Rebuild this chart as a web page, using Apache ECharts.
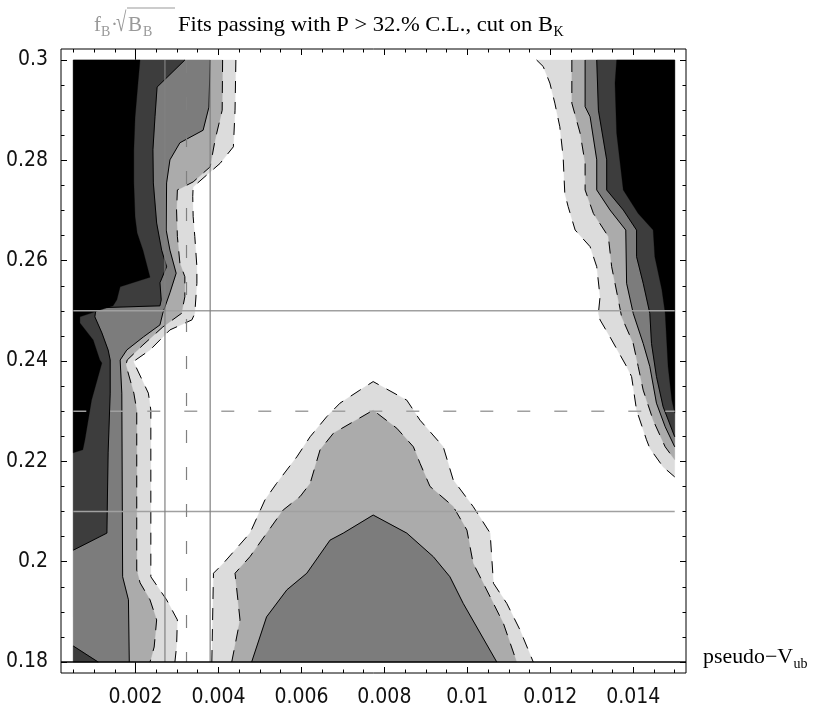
<!DOCTYPE html>
<html><head><meta charset="utf-8">
<script src="https://cdn.jsdelivr.net/npm/echarts@6/dist/echarts.min.js"></script>
<style>html,body{margin:0;padding:0;background:#fff}#c{width:814px;height:709px}</style>
</head><body><div id="c"></div>
<script>
// ---------- data ----------
const X_RANGE = [0.000204, 0.015272];      // frame extent
const Y_RANGE = [0.177816, 0.302193];
const DATA_X = [0.0005, 0.015];            // plotted region
const DATA_Y = [0.18, 0.3];
const AXIS_ORIGIN = [0.002, 0.18];
const X_LABELS = [0.002,0.004,0.006,0.008,0.01,0.012,0.014];
const X_MINOR = [0.0005,0.001,0.0015,0.0025,0.003,0.0035,0.0045,0.005,0.0055,0.0065,0.007,0.0075,0.0085,0.009,0.0095,0.0105,0.011,0.0115,0.0125,0.013,0.0135,0.0145,0.015];
const Y_LABELS = [0.18,0.2,0.22,0.24,0.26,0.28,0.3];
const Y_MINOR = [0.185,0.19,0.195,0.205,0.21,0.215,0.225,0.23,0.235,0.245,0.25,0.255,0.265,0.27,0.275,0.285,0.29,0.295];
const REF_H_SOLID = [0.25, 0.21];
const REF_H_DASHED = [0.23];
const REF_V_SOLID = [0.00271, 0.0038];
const REF_V_DASHED = [0.00323];

// contour boundaries, level A (outermost) .. E (innermost)
const LEFT_A = [[0.00442,0.3],[0.0044,0.29],[0.00436,0.2827],[0.00404,0.2794],[0.00372,0.2771],[0.00339,0.2747],[0.00338,0.2728],[0.00339,0.2688],[0.00343,0.2648],[0.00348,0.2588],[0.00348,0.2555],[0.00343,0.2495],[0.00336,0.2482],[0.00283,0.2462],[0.00235,0.2422],[0.00195,0.2399],[0.00231,0.2336],[0.00237,0.2302],[0.00237,0.197],[0.00275,0.1924],[0.00301,0.1884],[0.00299,0.1831],[0.00295,0.18]];
const LEFT_B = [[0.0041,0.3],[0.00409,0.29],[0.00392,0.2841],[0.0038,0.2787],[0.00339,0.2757],[0.00301,0.2741],[0.00299,0.2701],[0.00301,0.2648],[0.00307,0.2595],[0.00319,0.2568],[0.00319,0.2528],[0.00311,0.2495],[0.00266,0.2468],[0.00218,0.2432],[0.0018,0.2402],[0.00177,0.2392],[0.00196,0.2336],[0.00203,0.2302],[0.00203,0.1983],[0.00211,0.1958],[0.00235,0.1924],[0.00251,0.1884],[0.00245,0.183],[0.00235,0.18]];
const LEFT_C = [[0.0038,0.3],[0.00377,0.2906],[0.00363,0.286],[0.00307,0.2835],[0.00283,0.2801],[0.00275,0.2755],[0.00274,0.2661],[0.00283,0.2621],[0.00298,0.2575],[0.00283,0.2536],[0.00266,0.2496],[0.00259,0.2472],[0.00219,0.2448],[0.00179,0.2422],[0.00163,0.2402],[0.00167,0.2336],[0.00169,0.197],[0.00183,0.1924],[0.00185,0.18]];
const LEFT_D = [[0.00319,0.3],[0.00252,0.2946],[0.00247,0.2887],[0.00242,0.2821],[0.00243,0.2755],[0.00251,0.2675],[0.00263,0.2621],[0.00275,0.2588],[0.00259,0.2556],[0.00262,0.2522],[0.00259,0.251],[0.00105,0.2506],[0.00102,0.2488],[0.00119,0.2456],[0.00134,0.2422],[0.00139,0.2402],[0.00139,0.2336],[0.00134,0.2217],[0.00131,0.2057],[0.0005,0.2023]];
const LEFT_E = [[0.00211,0.3],[0.00206,0.2954],[0.00199,0.2886],[0.00196,0.2821],[0.00196,0.2755],[0.00199,0.2687],[0.00204,0.2655],[0.00218,0.2621],[0.00235,0.2567],[0.00163,0.2548],[0.00155,0.2522],[0.00146,0.251],[0.00066,0.2488],[0.00066,0.2476],[0.00098,0.2442],[0.00114,0.2402],[0.00119,0.2396],[0.00094,0.2322],[0.00078,0.2243],[0.00073,0.2223],[0.0005,0.2217]];
const LEFT_CORNER_D = [[0.0005,0.1832],[0.0011,0.18]];

const CENTER_A = [[0.00384,0.18],[0.00388,0.1977],[0.00412,0.1997],[0.00476,0.2057],[0.00512,0.2123],[0.0054,0.2156],[0.00589,0.2209],[0.00621,0.2249],[0.00661,0.2289],[0.00693,0.2316],[0.00741,0.2342],[0.00773,0.2359],[0.00854,0.2322],[0.00886,0.2282],[0.00942,0.2229],[0.00966,0.2163],[0.01014,0.211],[0.01055,0.2057],[0.01063,0.1957],[0.01095,0.1917],[0.01127,0.1864],[0.01159,0.18]];
const CENTER_B = [[0.00432,0.18],[0.00452,0.1884],[0.0044,0.1977],[0.00476,0.201],[0.00556,0.2103],[0.00597,0.213],[0.00621,0.2156],[0.00645,0.2223],[0.00677,0.2256],[0.00773,0.2302],[0.0083,0.2266],[0.0087,0.2229],[0.00886,0.2196],[0.0091,0.215],[0.00966,0.211],[0.00999,0.2063],[0.01014,0.1997],[0.01055,0.193],[0.01087,0.1877],[0.01119,0.18]];
const CENTER_C = [[0.0048,0.18],[0.00516,0.189],[0.00565,0.1944],[0.00613,0.1977],[0.00669,0.2043],[0.00701,0.2057],[0.00773,0.2093],[0.00854,0.2057],[0.00918,0.201],[0.00958,0.197],[0.0099,0.1917],[0.01071,0.18]];

const RIGHT_A = [[0.01167,0.3],[0.01183,0.2987],[0.01199,0.2954],[0.01211,0.2914],[0.01223,0.2867],[0.01231,0.2807],[0.01235,0.2734],[0.01243,0.2708],[0.0126,0.2661],[0.01296,0.2628],[0.01312,0.2588],[0.0132,0.2528],[0.01316,0.2495],[0.0132,0.2482],[0.01344,0.2448],[0.01384,0.2389],[0.01396,0.2369],[0.01408,0.2302],[0.01432,0.2243],[0.0144,0.2226],[0.01472,0.2189],[0.015,0.2169]];
const RIGHT_B = [[0.01252,0.3],[0.01252,0.2914],[0.01272,0.2854],[0.01284,0.2794],[0.01284,0.2741],[0.01304,0.2694],[0.0134,0.2648],[0.01348,0.2588],[0.01364,0.2522],[0.01372,0.2488],[0.014,0.2435],[0.01412,0.2389],[0.01424,0.2342],[0.01448,0.2282],[0.01477,0.2229],[0.015,0.2203]];
const RIGHT_C = [[0.01284,0.3],[0.01284,0.2907],[0.01296,0.2887],[0.01312,0.2801],[0.01312,0.2741],[0.01344,0.2701],[0.01382,0.2661],[0.01384,0.2555],[0.014,0.2495],[0.01424,0.2435],[0.0144,0.2389],[0.01456,0.2316],[0.01477,0.2269],[0.015,0.2229]];
const RIGHT_D = [[0.01312,0.3],[0.01316,0.29],[0.01336,0.2801],[0.01336,0.2741],[0.01376,0.2701],[0.01408,0.2661],[0.01408,0.2608],[0.01424,0.2555],[0.0144,0.2495],[0.01444,0.2435],[0.01456,0.2369],[0.01472,0.2309],[0.015,0.2249]];
const RIGHT_E = [[0.0136,0.3],[0.01356,0.2954],[0.0136,0.2854],[0.01376,0.2741],[0.01412,0.2694],[0.01448,0.2661],[0.01452,0.2608],[0.01469,0.2542],[0.01477,0.2495],[0.01484,0.2389],[0.01493,0.2322],[0.015,0.2296]];

// ---------- styles ----------
const SHADES = ['#dcdcdc','#ababab','#7c7c7c','#3d3d3d','#000000'];
const LINE_DASH = [[12,9],[12,9],null,null,'none'];
const REGIONS = [
  {pts:LEFT_A, side:'left', level:0},{pts:LEFT_B, side:'left', level:1},{pts:LEFT_C, side:'left', level:2},
  {pts:LEFT_D, side:'left', level:3},{pts:LEFT_E, side:'left', level:4},{pts:LEFT_CORNER_D, side:'left', level:3},
  {pts:CENTER_A, side:'closed', level:0},{pts:CENTER_B, side:'closed', level:1},{pts:CENTER_C, side:'closed', level:2},
  {pts:RIGHT_A, side:'right', level:0},{pts:RIGHT_B, side:'right', level:1},{pts:RIGHT_C, side:'right', level:2},
  {pts:RIGHT_D, side:'right', level:3},{pts:RIGHT_E, side:'right', level:4}
];
function regionPolygon(r){
  const p = r.pts.slice();
  const first = p[0], last = p[p.length-1];
  if (r.side === 'left'){ p.push([DATA_X[0], last[1]]); p.push([DATA_X[0], first[1]]); }
  else if (r.side === 'right'){ p.push([DATA_X[1], last[1]]); p.push([DATA_X[1], first[1]]); }
  return p;
}

const TICK_FONT = '"Liberation Sans Narrow","DejaVu Sans Condensed","Liberation Sans",sans-serif';
const SERIF = '"Liberation Serif","Times New Roman",serif';
const fmt = v => String(+(+v).toFixed(4));

function xAx(pos, major){
  return {type:'value', position:pos, min:X_RANGE[0], max:X_RANGE[1],
    axisLine:{show:false}, splitLine:{show:false},
    axisTick:{show:true, inside:true, length: major?6:3.5, customValues: major?X_LABELS:X_MINOR, lineStyle:{color:'#000', width:1}},
    axisLabel: (major && pos==='bottom') ? {show:true, customValues:X_LABELS, margin:14, color:'#111', fontFamily:TICK_FONT, fontSize:21, formatter:fmt} : {show:false}};
}
function yAx(pos, major){
  return {type:'value', position:pos, min:Y_RANGE[0], max:Y_RANGE[1],
    axisLine:{show:false}, splitLine:{show:false},
    axisTick:{show:true, inside:true, length: major?6:3.5, customValues: major?Y_LABELS:Y_MINOR, lineStyle:{color:'#000', width:1}},
    axisLabel: (major && pos==='left') ? {show:true, customValues:Y_LABELS, margin:13, color:'#111', fontFamily:TICK_FONT, fontSize:21, formatter:fmt} : {show:false}};
}

function measure(str, size){
  const ctx = document.createElement('canvas').getContext('2d');
  ctx.font = size + 'px ' + SERIF;
  return ctx.measureText(str).width;
}
const MID = 0.3375; // em-middle above baseline
function txt(str, x, baseline, size, color, extra){
  return Object.assign({type:'text', x:x, y:baseline, silent:true, z:10,
    style:{text:str, x:0, y:-MID*size, fontSize:size, fontFamily:SERIF, fill:color, verticalAlign:'middle', textAlign:'left'}}, extra||{});
}
const TITLE_MAIN = 'Fits passing with P > 32.% C.L., cut on B';
const TITLE_SUB = 'K';
const XNAME_MAIN = 'pseudo\u2212V';
const XNAME_SUB = 'ub';
const GRAY = '#999999';
// layout: target text widths in the reference picture
const TITLE_W = 375, XNAME_W = 90;
const sTitle = TITLE_W / measure(TITLE_MAIN, 21);
const sX = XNAME_W / measure(XNAME_MAIN, 21);

const seriesBase = {type:'custom', coordinateSystem:'cartesian2d', xAxisIndex:0, yAxisIndex:0, silent:true, data:[[DATA_X[0], DATA_Y[0]]]};

const option = {
  animation:false,
  grid:{left:61, top:49, right:128, bottom:36, show:true, borderColor:'#000', borderWidth:1, backgroundColor:'#fff'},
  xAxis:[xAx('bottom',true), xAx('bottom',false), xAx('top',true), xAx('top',false)],
  yAxis:[yAx('left',true), yAx('left',false), yAx('right',true), yAx('right',false)],
  series:[
    Object.assign({}, seriesBase, {z:1, renderItem:(p,api)=>{
      const a = api.coord([AXIS_ORIGIN[0], Y_RANGE[0]]), b = api.coord([AXIS_ORIGIN[0], Y_RANGE[1]]);
      return {type:'line', shape:{x1:a[0],y1:a[1],x2:b[0],y2:b[1]}, style:{stroke:'#000', lineWidth:1}};
    }}),
    Object.assign({}, seriesBase, {z:2, renderItem:(p,api)=>{
      const a = api.coord([DATA_X[0], DATA_Y[1]]), b = api.coord([DATA_X[1], DATA_Y[0]]);
      return {type:'rect', shape:{x:a[0], y:a[1], width:b[0]-a[0], height:b[1]-a[1]}, style:{fill:'#fff'}};
    }}),
    Object.assign({}, seriesBase, {z:3, renderItem:(p,api)=>({type:'group', children: REGIONS.map(r=>({
      type:'polygon', shape:{points: regionPolygon(r).map(q=>api.coord(q))}, style:{fill:SHADES[r.level], stroke:SHADES[r.level], lineWidth:0.3}}))})}),
    Object.assign({}, seriesBase, {z:4, renderItem:(p,api)=>({type:'group', children: REGIONS.filter(r=>LINE_DASH[r.level]!=='none').map(r=>({
      type:'polyline', shape:{points: r.pts.map(q=>api.coord(q))}, style:{stroke:'#000', lineWidth:1, fill:null, lineDash: LINE_DASH[r.level]}}))})}),
    Object.assign({}, seriesBase, {z:5, renderItem:(p,api)=>{
      const kids = [];
      REF_H_SOLID.forEach(v=>{const a=api.coord([DATA_X[0],v]), b=api.coord([DATA_X[1],v]); kids.push({type:'line', shape:{x1:a[0],y1:a[1],x2:b[0],y2:b[1]}, style:{stroke:'#a0a0a0', lineWidth:1.5}});});
      REF_H_DASHED.forEach(v=>{const a=api.coord([DATA_X[0],v]), b=api.coord([DATA_X[1],v]); kids.push({type:'line', shape:{x1:a[0],y1:a[1],x2:b[0],y2:b[1]}, style:{stroke:'#a0a0a0', lineWidth:1.5, lineDash:[13,24]}});});
      REF_V_SOLID.forEach(v=>{const a=api.coord([v,DATA_Y[0]]), b=api.coord([v,DATA_Y[1]]); kids.push({type:'line', shape:{x1:a[0],y1:a[1],x2:b[0],y2:b[1]}, style:{stroke:'#808080', lineWidth:1.2}});});
      REF_V_DASHED.forEach(v=>{const a=api.coord([v,DATA_Y[1]]), b=api.coord([v,DATA_Y[0]]); kids.push({type:'line', shape:{x1:a[0],y1:a[1],x2:b[0],y2:b[1]}, style:{stroke:'#808080', lineWidth:1.2, lineDash:[13,24]}});});
      return {type:'group', children:kids};
    }}),
    Object.assign({}, seriesBase, {z:6, renderItem:(p,api)=>{
      const a = api.coord([X_RANGE[0], AXIS_ORIGIN[1]]), b = api.coord([X_RANGE[1], AXIS_ORIGIN[1]]);
      return {type:'line', shape:{x1:a[0],y1:a[1],x2:b[0],y2:b[1]}, style:{stroke:'#000', lineWidth:1.5}};
    }})
  ],
  graphic:[
    txt('f', 94, 33, 21, GRAY),
    txt('B', 101, 37.5, 14, GRAY),
    txt('\u00b7', 111, 33, 21, GRAY),
    txt('\u221a', 116, 33, 21, GRAY, {scaleY:1.3, scaleX:0.9}),
    {type:'line', silent:true, z:10, shape:{x1:127, y1:8, x2:175, y2:8}, style:{stroke:GRAY, lineWidth:1}},
    txt('B', 128, 33, 21, GRAY),
    txt('B', 143, 37.5, 14, GRAY),
    txt(TITLE_MAIN, 178, 33, 21, '#000', {scaleX:sTitle}),
    txt(TITLE_SUB, 178 + TITLE_W + 0.5, 37.5, 14, '#000'),
    txt(XNAME_MAIN, 703, 665, 21, '#000', {scaleX:sX}),
    txt(XNAME_SUB, 703 + XNAME_W + 0.5, 669, 14, '#000')
  ]
};
const chart = echarts.init(document.getElementById('c'));
chart.setOption(option);
</script></body></html>
